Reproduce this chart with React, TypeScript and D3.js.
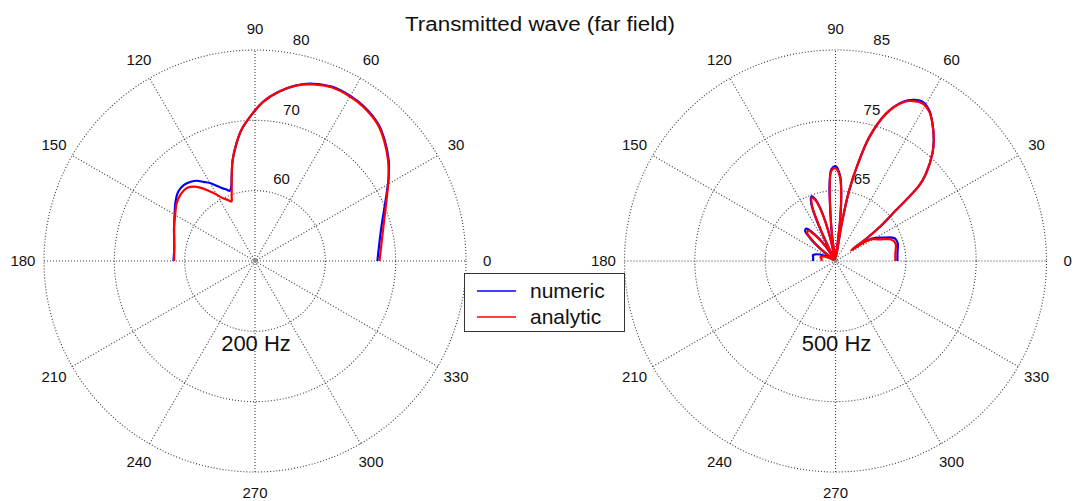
import React from "react";
import * as d3 from "d3";

// ---------- data ----------
const angleTicks = [0, 30, 60, 90, 120, 150, 180, 210, 240, 270, 300, 330];

// 200 Hz panel (dB vs angle in degrees)
const angles200 = [0, 15, 27, 32, 37, 43, 48, 55, 60, 66, 72, 77, 82, 87, 92, 96, 99, 102.5, 105.5, 108, 110, 111.5, 114, 117, 120, 123, 126, 129, 133, 138, 144, 150, 157, 165, 172, 180];
const numeric200 = [67.4, 68.6, 71.0, 72.4, 73.8, 75.2, 76.2, 76.9, 77.1, 77.1, 76.5, 75.6, 74.3, 72.7, 70.5, 68.7, 66.9, 64.7, 62.4, 61.0, 60.6, 60.9, 61.3, 62.0, 62.8, 63.4, 64.1, 64.5, 64.8, 64.7, 64.0, 63.2, 62.5, 61.9, 61.6, 61.6];
const analytic200 = [67.7, 68.9, 71.1, 72.4, 73.7, 75.1, 76.1, 76.8, 77.0, 77.0, 76.4, 75.6, 74.3, 72.7, 70.5, 68.7, 66.9, 64.7, 62.4, 60.7, 59.7, 59.1, 59.5, 60.0, 60.9, 61.8, 62.8, 63.6, 64.2, 64.2, 63.8, 63.1, 62.5, 61.9, 61.6, 61.5];
const rings200 = [60, 70, 80];
const rMin200 = 50;

// 500 Hz panel
const angles500 = [0, 8, 16, 21, 26, 30, 32, 33.5, 34.5, 36, 38, 40, 42, 44, 48, 51, 55, 58, 61, 64, 67, 71, 74.7, 77, 79, 80.5, 82, 83.5, 85, 87, 90, 92.5, 94.2, 95.6, 97.8, 100, 103, 105.5, 108, 110.5, 113, 115, 117.5, 120, 124, 128, 132, 135, 138, 141, 145, 150, 155, 160, 165, 172, 180];
const numeric500 = [63.8, 63.9, 64.2, 64.0, 62.6, 61.6, 60.9, 59.6, 57.8, 60.5, 63.5, 66.2, 71.0, 72.9, 75.6, 77.2, 79.0, 80.2, 80.8, 80.5, 79.6, 77.2, 73.3, 69.2, 65.3, 60.5, 55.5, 60.6, 64.4, 67.2, 68.5, 68.1, 66.3, 63.0, 58.6, 55.3, 58.7, 62.2, 64.2, 64.8, 63.8, 61.0, 56.8, 55.3, 57.7, 59.8, 61.2, 61.1, 59.9, 57.8, 55.4, 55.6, 56.8, 57.8, 58.3, 58.2, 58.2];
const analytic500 = [63.5, 63.6, 63.9, 63.5, 62.0, 61.2, 60.7, 59.5, 57.7, 60.5, 63.5, 66.2, 71.0, 72.9, 75.6, 77.2, 79.0, 80.1, 80.6, 80.3, 79.5, 77.2, 73.3, 69.2, 65.3, 60.5, 55.5, 60.5, 64.2, 67.0, 68.2, 67.9, 66.1, 62.8, 58.5, 55.3, 58.5, 62.0, 64.0, 64.6, 63.5, 60.5, 56.5, 55.3, 57.5, 59.5, 60.8, 60.7, 59.5, 57.5, 55.3, 55.5, 56.2, 56.9, 57.2, 57.0, 57.0];
const rings500 = [65, 75, 85];
const rMin500 = 55;

const seriesNames = ["numeric", "analytic"];
const seriesColors = ["#0000ff", "#ff0000"];
const titleText = "Transmitted wave (far field)";

// ---------- layout ----------
const W = 1075;
const H = 501;
const R = 211;
const FONT = "Liberation Sans, Arial, Helvetica, sans-serif";
const gridColor = "#3a3a3a";

type PanelProps = {
  cx: number;
  cy: number;
  rMin: number;
  rings: number[];
  angles: number[];
  series: number[][];
  label: string;
};

function Panel({ cx, cy, rMin, rings, angles, series, label }: PanelProps) {
  const rMax = rings[rings.length - 1];
  const r = d3.scaleLinear().domain([rMin, rMax]).range([0, R]);
  const rinc = rings[1] - rings[0];
  const toRad = Math.PI / 180;
  const line = d3
    .lineRadial<[number, number]>()
    .angle((d) => (90 - d[0]) * toRad)
    .radius((d) => r(Math.max(rMin, d[1])))
    .curve(d3.curveCatmullRom.alpha(0.5));
  const c82 = Math.cos(82 * toRad);
  const s82 = Math.sin(82 * toRad);
  return (
    <g transform={`translate(${cx},${cy})`}>
      {rings.map((v) => (
        <circle key={"c" + v} r={r(v)} fill="none" stroke={gridColor} strokeWidth={1.1} strokeDasharray="1 2" />
      ))}
      {[0, 30, 60, 90, 120, 150].map((a) => (
        <line
          key={"s" + a}
          x1={-R * Math.cos(a * toRad)}
          y1={R * Math.sin(a * toRad)}
          x2={R * Math.cos(a * toRad)}
          y2={-R * Math.sin(a * toRad)}
          stroke={gridColor}
          strokeWidth={1.1}
          strokeDasharray="1 2"
        />
      ))}
      <circle r={2} fill="#888" />
      {angleTicks.map((a) => (
        <text
          key={"t" + a}
          x={1.1 * R * Math.cos(a * toRad)}
          y={-1.1 * R * Math.sin(a * toRad)}
          dy="0.35em"
          textAnchor="middle"
          fontSize={15}
          fontFamily={FONT}
          fill="#111"
        >
          {a}
        </text>
      ))}
      {rings.map((v) => {
        const rr = r(v) + r(rMin + rinc / 20);
        return (
          <text
            key={"rl" + v}
            x={rr * c82 + 8}
            y={-rr * s82 - 3.5}
            fontSize={15}
            fontFamily={FONT}
            fill="#111"
          >
            {v}
          </text>
        );
      })}
      {series.map((vals, i) => (
        <path
          key={"p" + i}
          d={line(angles.map((a, j) => [a, vals[j]]) as [number, number][]) || ""}
          fill="none"
          stroke={seriesColors[i]}
          strokeWidth={2.2}
          strokeLinejoin="round"
        />
      ))}
      <text x={1} y={82} dy="0.35em" textAnchor="middle" fontSize={22} fontFamily={FONT} fill="#111">
        {label}
      </text>
    </g>
  );
}

export default function App() {
  return (
    <svg
      width={W}
      height={H}
      viewBox={`0 0 ${W} ${H}`}
      style={{ position: "absolute", left: 0, top: 0, background: "#fff" }}
    >
      <rect x={0} y={0} width={W} height={H} fill="#fff" />
      <Panel cx={255} cy={261} rMin={rMin200} rings={rings200} angles={angles200} series={[numeric200, analytic200]} label="200 Hz" />
      <Panel cx={835.5} cy={261} rMin={rMin500} rings={rings500} angles={angles500} series={[numeric500, analytic500]} label="500 Hz" />
      <text x={540} y={30.5} textAnchor="middle" fontSize={20} fontFamily={FONT} fill="#111" textLength={270} lengthAdjust="spacingAndGlyphs">
        {titleText}
      </text>
      <g>
        <rect x={464.5} y={273.5} width={160} height={58} fill="#fff" stroke="#333" strokeWidth={1} />
        {seriesNames.map((n, i) => (
          <g key={n}>
            <line x1={477} x2={516} y1={291 + i * 26} y2={291 + i * 26} stroke={seriesColors[i]} strokeWidth={1.5} />
            <text x={530} y={291 + i * 26} dy="0.35em" fontSize={21} fontFamily={FONT} fill="#111">
              {n}
            </text>
          </g>
        ))}
      </g>
    </svg>
  );
}
